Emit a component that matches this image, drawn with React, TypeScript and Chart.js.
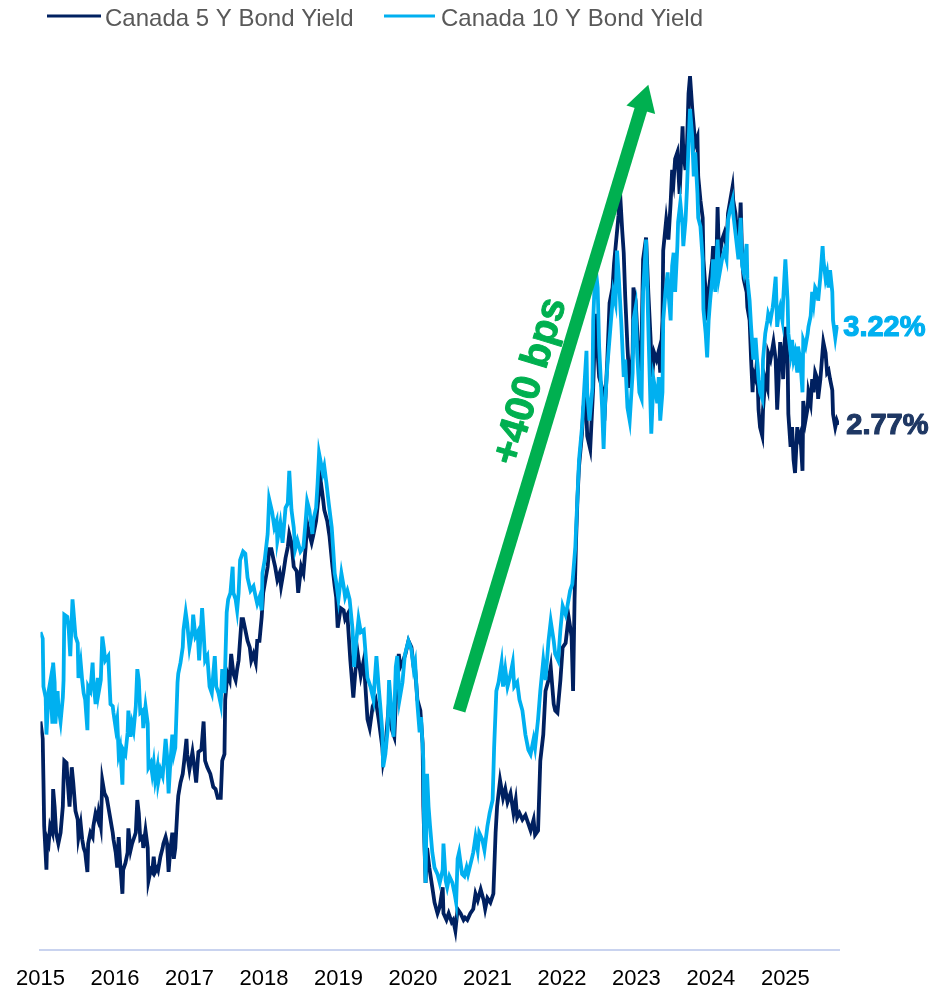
import { useEffect, useRef } from "react";
import { Chart, registerables } from "chart.js";

Chart.register(...registerables);

// ---------- data (decimal years, yields in %) ----------
const xTickYears = [2015, 2016, 2017, 2018, 2019, 2020, 2021, 2022, 2023, 2024, 2025];
const seriesNames = ["Canada 5 Y Bond Yield", "Canada 10 Y Bond Yield"];

const dates5Y = [
  2015.00, 2015.03, 2015.04, 2015.05, 2015.08, 2015.09, 2015.11, 2015.13, 2015.16, 2015.17, 2015.19, 2015.21, 2015.24, 2015.27, 2015.30, 2015.31, 2015.32, 2015.35, 2015.36, 2015.39, 2015.42, 2015.44, 2015.47, 2015.50, 2015.51, 2015.54, 2015.56, 2015.58, 2015.60, 2015.63, 2015.64, 2015.67, 2015.70, 2015.71, 2015.74, 2015.77, 2015.78, 2015.81, 2015.83, 2015.86, 2015.89, 2015.91, 2015.94, 2015.97, 2015.98,
  2016.01, 2016.03, 2016.05, 2016.07, 2016.10, 2016.11, 2016.14, 2016.17, 2016.18, 2016.21, 2016.23, 2016.25, 2016.28, 2016.30, 2016.32, 2016.34, 2016.37, 2016.38, 2016.41, 2016.44, 2016.45, 2016.48, 2016.50, 2016.52, 2016.54, 2016.57, 2016.58, 2016.61, 2016.64, 2016.65, 2016.68, 2016.70, 2016.72, 2016.74, 2016.77, 2016.79, 2016.81, 2016.84, 2016.85, 2016.88, 2016.91, 2016.93, 2016.96, 2016.97,
  2017.00, 2017.04, 2017.07, 2017.09, 2017.12, 2017.16, 2017.19, 2017.21, 2017.24, 2017.28, 2017.32, 2017.35, 2017.38, 2017.42, 2017.44, 2017.47, 2017.48, 2017.51, 2017.54, 2017.56, 2017.59, 2017.62, 2017.64, 2017.66, 2017.70, 2017.72, 2017.75, 2017.78, 2017.81, 2017.83, 2017.86, 2017.89, 2017.91, 2017.94, 2017.97, 2017.99,
  2018.02, 2018.05, 2018.07, 2018.10, 2018.13, 2018.15, 2018.18, 2018.21, 2018.23, 2018.26, 2018.29, 2018.32, 2018.34, 2018.37, 2018.40, 2018.44, 2018.46, 2018.50, 2018.53, 2018.56, 2018.58, 2018.61, 2018.64, 2018.66, 2018.70, 2018.73, 2018.76, 2018.79, 2018.81, 2018.85, 2018.88, 2018.92, 2018.95, 2018.97, 2018.99,
  2019.03, 2019.07, 2019.09, 2019.12, 2019.16, 2019.20, 2019.23, 2019.26, 2019.30, 2019.34, 2019.39, 2019.42, 2019.46, 2019.50, 2019.54, 2019.59, 2019.60, 2019.63, 2019.67, 2019.72, 2019.75, 2019.78, 2019.81, 2019.83, 2019.87, 2019.90, 2019.94, 2019.98,
  2020.01, 2020.03, 2020.06, 2020.10, 2020.13, 2020.14, 2020.17, 2020.19, 2020.22, 2020.26, 2020.29, 2020.33, 2020.36, 2020.40, 2020.41, 2020.45, 2020.48, 2020.52, 2020.54, 2020.57, 2020.60, 2020.64, 2020.68, 2020.70, 2020.73, 2020.77, 2020.81, 2020.84, 2020.87, 2020.91, 2020.95, 2020.97,
  2021.00, 2021.04, 2021.08, 2021.11, 2021.13, 2021.17, 2021.21, 2021.24, 2021.27, 2021.31, 2021.35, 2021.38, 2021.40, 2021.43, 2021.47, 2021.51, 2021.55, 2021.58, 2021.62, 2021.64, 2021.68, 2021.71, 2021.75, 2021.78, 2021.82, 2021.85, 2021.89, 2021.91, 2021.94, 2021.98,
  2022.01, 2022.05, 2022.09, 2022.13, 2022.15, 2022.17, 2022.19, 2022.21, 2022.23, 2022.27, 2022.29, 2022.32, 2022.34, 2022.38, 2022.42, 2022.45, 2022.48, 2022.50, 2022.54, 2022.57, 2022.61, 2022.64, 2022.68, 2022.70, 2022.73, 2022.76, 2022.78, 2022.81, 2022.83, 2022.85, 2022.88, 2022.91, 2022.95, 2022.96, 2022.99,
  2023.01, 2023.04, 2023.07, 2023.09, 2023.13, 2023.16, 2023.19, 2023.21, 2023.24, 2023.27, 2023.30, 2023.32, 2023.35, 2023.36, 2023.40, 2023.43, 2023.46, 2023.48, 2023.50, 2023.52, 2023.55, 2023.58, 2023.62, 2023.63, 2023.66, 2023.68, 2023.70, 2023.72, 2023.75, 2023.77, 2023.79, 2023.82, 2023.83, 2023.86, 2023.89, 2023.90, 2023.93, 2023.95, 2023.97, 2023.99,
  2024.02, 2024.03, 2024.07, 2024.09, 2024.11, 2024.15, 2024.18, 2024.21, 2024.23, 2024.26, 2024.29, 2024.30, 2024.33, 2024.36, 2024.37, 2024.40, 2024.42, 2024.44, 2024.48, 2024.49, 2024.52, 2024.54, 2024.56, 2024.57, 2024.60, 2024.62, 2024.64, 2024.66, 2024.69, 2024.70, 2024.73, 2024.76, 2024.77, 2024.80, 2024.83, 2024.84, 2024.87, 2024.89, 2024.91, 2024.93, 2024.96, 2024.97,
  2025.00, 2025.03, 2025.04, 2025.07, 2025.09, 2025.11, 2025.13, 2025.16, 2025.17, 2025.20, 2025.23, 2025.24, 2025.27, 2025.30, 2025.31, 2025.34, 2025.36, 2025.38, 2025.40, 2025.43, 2025.44, 2025.47, 2025.50, 2025.51, 2025.54, 2025.56, 2025.58, 2025.60, 2025.63, 2025.64, 2025.67, 2025.69, 2025.71,
];

const yield5Y = [
  1.41, 1.33, 1.14, 0.93, 0.73, 0.87, 0.85, 0.93, 0.90, 1.10, 1.02, 0.90, 0.85, 0.90, 1.02, 1.14, 1.23, 1.22, 1.16, 1.02, 1.20, 1.13, 1.00, 0.96, 0.88, 0.94, 0.87, 0.83, 0.81, 0.72, 0.85, 0.90, 0.88, 0.93, 0.99, 0.96, 0.99, 0.93, 1.14, 1.08, 1.06, 1.02, 0.96, 0.90, 0.87,
  0.81, 0.74, 0.88, 0.76, 0.62, 0.73, 0.76, 0.81, 0.92, 0.82, 0.85, 0.87, 0.90, 1.05, 0.99, 0.87, 0.88, 0.83, 0.91, 0.83, 0.68, 0.73, 0.72, 0.79, 0.72, 0.74, 0.73, 0.79, 0.83, 0.85, 0.88, 0.85, 0.72, 0.81, 0.90, 0.78, 0.83, 1.02, 1.07, 1.13, 1.17, 1.23, 1.33, 1.26,
  1.19, 1.27, 1.19, 1.13, 1.27, 1.28, 1.41, 1.23, 1.20, 1.17, 1.11, 1.10, 1.06, 1.06, 1.23, 1.26, 1.51, 1.63, 1.60, 1.72, 1.63, 1.60, 1.65, 1.69, 1.88, 1.88, 1.83, 1.78, 1.75, 1.69, 1.72, 1.68, 1.78, 1.78, 1.89, 2.00,
  2.06, 2.12, 2.20, 2.20, 2.15, 2.12, 2.06, 2.09, 2.03, 2.09, 2.16, 2.21, 2.27, 2.23, 2.12, 2.10, 2.00, 2.12, 2.09, 2.21, 2.32, 2.27, 2.23, 2.26, 2.33, 2.43, 2.52, 2.44, 2.38, 2.33, 2.26, 2.12, 2.03, 1.98, 1.84,
  1.93, 1.92, 1.88, 1.90, 1.69, 1.52, 1.65, 1.72, 1.62, 1.69, 1.42, 1.38, 1.48, 1.51, 1.42, 1.29, 1.23, 1.29, 1.46, 1.37, 1.34, 1.57, 1.72, 1.66, 1.69, 1.72, 1.78, 1.75,
  1.66, 1.65, 1.51, 1.46, 1.31, 1.02, 0.67, 0.83, 0.74, 0.65, 0.58, 0.53, 0.56, 0.65, 0.53, 0.50, 0.53, 0.49, 0.50, 0.45, 0.55, 0.53, 0.50, 0.51, 0.50, 0.53, 0.55, 0.62, 0.59, 0.64, 0.59, 0.55,
  0.60, 0.58, 0.62, 0.90, 1.02, 1.14, 1.06, 1.10, 1.04, 1.08, 0.99, 1.05, 0.97, 0.99, 0.96, 0.98, 0.94, 0.91, 0.96, 0.89, 0.91, 1.23, 1.35, 1.55, 1.60, 1.66, 1.49, 1.46, 1.45, 1.60,
  1.75, 1.77, 1.89, 1.80, 1.55, 1.97, 2.24, 2.44, 2.58, 2.73, 2.85, 2.92, 2.72, 2.66, 2.94, 3.28, 3.10, 2.99, 2.94, 2.79, 3.07, 3.33, 3.40, 3.51, 3.62, 3.73, 3.84, 3.66, 3.56, 3.36, 3.13, 2.94, 3.10, 3.40, 3.34,
  3.21, 2.99, 3.16, 3.53, 3.63, 3.38, 3.17, 2.99, 3.10, 3.07, 3.11, 3.01, 3.25, 3.57, 3.71, 3.62, 3.79, 3.94, 3.89, 3.99, 4.02, 3.83, 4.14, 4.02, 3.94, 4.06, 4.29, 4.37, 4.22, 4.14, 4.06, 4.09, 3.91, 3.80, 3.72, 3.53, 3.38, 3.25, 3.38, 3.44,
  3.53, 3.59, 3.45, 3.77, 3.53, 3.62, 3.65, 3.59, 3.74, 3.80, 3.86, 3.80, 3.74, 3.62, 3.56, 3.79, 3.53, 3.44, 3.38, 3.31, 3.25, 3.07, 2.92, 3.01, 2.98, 3.07, 2.84, 2.76, 2.72, 2.84, 2.98, 2.94, 3.10, 3.07, 3.13, 3.15, 3.07, 2.84, 2.98, 3.15, 3.07, 2.98,
  3.22, 3.07, 2.82, 2.67, 2.76, 2.61, 2.55, 2.76, 2.70, 2.73, 2.56, 2.88, 2.79, 2.85, 2.92, 2.87, 2.98, 2.92, 3.01, 2.98, 2.89, 2.98, 3.11, 3.15, 3.10, 3.01, 3.02, 2.98, 2.93, 2.82, 2.76, 2.79, 2.77,
];

const dates10Y = [
  2015.00, 2015.03, 2015.04, 2015.07, 2015.08, 2015.11, 2015.13, 2015.16, 2015.17, 2015.19, 2015.20, 2015.23, 2015.24, 2015.27, 2015.30, 2015.31, 2015.32, 2015.36, 2015.38, 2015.40, 2015.43, 2015.44, 2015.47, 2015.50, 2015.51, 2015.54, 2015.56, 2015.58, 2015.60, 2015.63, 2015.64, 2015.67, 2015.70, 2015.71, 2015.74, 2015.77, 2015.78, 2015.81, 2015.83, 2015.85, 2015.87, 2015.91, 2015.94, 2015.97, 2015.98,
  2016.01, 2016.03, 2016.05, 2016.07, 2016.10, 2016.11, 2016.14, 2016.17, 2016.18, 2016.21, 2016.23, 2016.25, 2016.28, 2016.30, 2016.32, 2016.34, 2016.37, 2016.38, 2016.41, 2016.44, 2016.45, 2016.48, 2016.50, 2016.52, 2016.54, 2016.57, 2016.58, 2016.61, 2016.64, 2016.65, 2016.68, 2016.70, 2016.72, 2016.74, 2016.77, 2016.79, 2016.81, 2016.84, 2016.85, 2016.88, 2016.91, 2016.92, 2016.95, 2016.97,
  2017.00, 2017.04, 2017.05, 2017.08, 2017.11, 2017.13, 2017.17, 2017.19, 2017.21, 2017.24, 2017.27, 2017.30, 2017.32, 2017.34, 2017.36, 2017.39, 2017.42, 2017.44, 2017.47, 2017.50, 2017.52, 2017.55, 2017.58, 2017.59, 2017.62, 2017.64, 2017.66, 2017.68, 2017.72, 2017.75, 2017.78, 2017.82, 2017.86, 2017.89, 2017.91, 2017.94, 2017.97, 2017.98,
  2018.01, 2018.05, 2018.07, 2018.11, 2018.14, 2018.17, 2018.18, 2018.22, 2018.25, 2018.29, 2018.32, 2018.34, 2018.37, 2018.40, 2018.42, 2018.45, 2018.49, 2018.53, 2018.56, 2018.58, 2018.61, 2018.65, 2018.66, 2018.70, 2018.72, 2018.74, 2018.79, 2018.81, 2018.84, 2018.87, 2018.91, 2018.93, 2018.95, 2018.97,
  2019.00, 2019.04, 2019.07, 2019.09, 2019.12, 2019.15, 2019.19, 2019.21, 2019.24, 2019.27, 2019.30, 2019.34, 2019.39, 2019.43, 2019.47, 2019.51, 2019.54, 2019.56, 2019.59, 2019.60, 2019.63, 2019.66, 2019.68, 2019.72, 2019.74, 2019.77, 2019.79, 2019.82, 2019.86, 2019.89, 2019.91, 2019.94, 2019.98,
  2020.01, 2020.03, 2020.06, 2020.09, 2020.11, 2020.14, 2020.15, 2020.17, 2020.19, 2020.21, 2020.23, 2020.26, 2020.29, 2020.33, 2020.36, 2020.40, 2020.41, 2020.44, 2020.46, 2020.49, 2020.53, 2020.56, 2020.58, 2020.60, 2020.62, 2020.66, 2020.69, 2020.72, 2020.74, 2020.79, 2020.81, 2020.84, 2020.87, 2020.89, 2020.93, 2020.96,
  2021.00, 2021.03, 2021.07, 2021.09, 2021.12, 2021.15, 2021.19, 2021.21, 2021.24, 2021.27, 2021.30, 2021.34, 2021.36, 2021.40, 2021.43, 2021.47, 2021.51, 2021.55, 2021.58, 2021.62, 2021.64, 2021.68, 2021.71, 2021.75, 2021.78, 2021.82, 2021.85, 2021.89, 2021.91, 2021.95, 2021.98,
  2022.01, 2022.05, 2022.07, 2022.11, 2022.14, 2022.18, 2022.21, 2022.23, 2022.27, 2022.30, 2022.33, 2022.34, 2022.37, 2022.41, 2022.42, 2022.45, 2022.48, 2022.50, 2022.54, 2022.56, 2022.58, 2022.61, 2022.65, 2022.69, 2022.72, 2022.74, 2022.76, 2022.80, 2022.83, 2022.85, 2022.88, 2022.91, 2022.95, 2022.96, 2022.99,
  2023.01, 2023.04, 2023.07, 2023.09, 2023.13, 2023.16, 2023.20, 2023.23, 2023.26, 2023.28, 2023.30, 2023.32, 2023.35, 2023.36, 2023.39, 2023.42, 2023.43, 2023.46, 2023.48, 2023.50, 2023.52, 2023.55, 2023.56, 2023.59, 2023.62, 2023.63, 2023.66, 2023.68, 2023.70, 2023.72, 2023.75, 2023.77, 2023.79, 2023.82, 2023.83, 2023.86, 2023.89, 2023.90, 2023.93, 2023.95, 2023.97, 2023.99,
  2024.02, 2024.03, 2024.06, 2024.09, 2024.11, 2024.15, 2024.18, 2024.21, 2024.23, 2024.26, 2024.29, 2024.30, 2024.33, 2024.36, 2024.37, 2024.40, 2024.42, 2024.44, 2024.48, 2024.49, 2024.52, 2024.54, 2024.57, 2024.60, 2024.62, 2024.64, 2024.66, 2024.69, 2024.70, 2024.73, 2024.76, 2024.77, 2024.80, 2024.83, 2024.84, 2024.87, 2024.89, 2024.91, 2024.93, 2024.96, 2024.97,
  2025.00, 2025.03, 2025.04, 2025.07, 2025.09, 2025.11, 2025.13, 2025.16, 2025.17, 2025.20, 2025.23, 2025.24, 2025.27, 2025.30, 2025.31, 2025.34, 2025.36, 2025.38, 2025.40, 2025.43, 2025.44, 2025.47, 2025.50, 2025.51, 2025.54, 2025.56, 2025.58, 2025.60, 2025.63, 2025.64, 2025.67, 2025.69, 2025.71,
];

const yield10Y = [
  1.82, 1.79, 1.57, 1.52, 1.35, 1.55, 1.59, 1.40, 1.68, 1.59, 1.40, 1.55, 1.48, 1.41, 1.52, 1.60, 1.90, 1.89, 1.83, 1.71, 1.97, 1.93, 1.80, 1.77, 1.61, 1.68, 1.60, 1.54, 1.51, 1.37, 1.57, 1.55, 1.68, 1.60, 1.49, 1.61, 1.54, 1.60, 1.80, 1.75, 1.69, 1.71, 1.49, 1.48, 1.45,
  1.38, 1.42, 1.26, 1.29, 1.12, 1.28, 1.26, 1.36, 1.46, 1.34, 1.40, 1.37, 1.48, 1.65, 1.60, 1.45, 1.46, 1.38, 1.48, 1.40, 1.20, 1.22, 1.17, 1.22, 1.14, 1.20, 1.13, 1.19, 1.16, 1.20, 1.33, 1.25, 1.08, 1.20, 1.35, 1.26, 1.29, 1.59, 1.63, 1.68, 1.75, 1.83, 1.91, 1.86,
  1.75, 1.83, 1.90, 1.80, 1.82, 1.69, 1.93, 1.82, 1.69, 1.71, 1.57, 1.54, 1.63, 1.71, 1.57, 1.54, 1.49, 1.65, 1.54, 1.91, 1.97, 2.00, 2.12, 2.00, 1.97, 1.92, 2.00, 2.15, 2.19, 2.18, 2.07, 2.01, 2.03, 1.98, 1.95, 1.98, 1.92, 2.09,
  2.15, 2.27, 2.43, 2.37, 2.30, 2.33, 2.24, 2.32, 2.23, 2.39, 2.41, 2.56, 2.38, 2.30, 2.20, 2.24, 2.19, 2.21, 2.33, 2.42, 2.38, 2.27, 2.33, 2.39, 2.50, 2.64, 2.55, 2.58, 2.50, 2.41, 2.30, 2.20, 2.09, 2.05,
  1.97, 2.09, 2.03, 1.98, 2.01, 1.97, 1.83, 1.66, 1.78, 1.88, 1.82, 1.83, 1.61, 1.57, 1.51, 1.71, 1.57, 1.49, 1.36, 1.20, 1.26, 1.37, 1.60, 1.42, 1.34, 1.66, 1.71, 1.51, 1.59, 1.71, 1.74, 1.78, 1.74,
  1.65, 1.68, 1.49, 1.36, 1.43, 1.23, 0.93, 0.67, 1.17, 1.02, 0.93, 0.81, 0.74, 0.71, 0.67, 0.73, 0.85, 0.68, 0.65, 0.70, 0.67, 0.62, 0.58, 0.78, 0.81, 0.71, 0.70, 0.74, 0.71, 0.78, 0.81, 0.88, 0.82, 0.90, 0.87, 0.82,
  0.93, 0.99, 1.05, 1.29, 1.55, 1.59, 1.68, 1.57, 1.65, 1.57, 1.61, 1.68, 1.57, 1.59, 1.51, 1.46, 1.35, 1.28, 1.26, 1.33, 1.29, 1.42, 1.55, 1.69, 1.60, 1.78, 1.87, 1.78, 1.72, 1.69, 1.83,
  1.94, 1.90, 1.93, 2.01, 2.04, 2.21, 2.45, 2.61, 2.76, 2.94, 3.11, 2.92, 2.79, 2.94, 3.25, 3.50, 3.40, 3.13, 2.85, 2.66, 2.87, 3.04, 3.21, 3.38, 3.33, 3.57, 3.47, 3.22, 2.99, 3.07, 2.85, 2.79, 3.01, 3.25, 3.31,
  3.10, 2.92, 2.89, 3.38, 3.62, 3.22, 2.73, 2.98, 2.92, 2.87, 2.99, 2.79, 2.92, 3.25, 3.38, 3.47, 3.38, 3.25, 3.50, 3.56, 3.38, 3.59, 3.70, 3.79, 3.68, 3.59, 3.71, 3.86, 4.06, 4.22, 4.09, 3.91, 4.02, 3.83, 3.72, 3.68, 3.53, 3.30, 3.19, 3.08, 3.25, 3.34,
  3.45, 3.53, 3.38, 3.62, 3.45, 3.53, 3.57, 3.53, 3.71, 3.76, 3.80, 3.74, 3.65, 3.56, 3.53, 3.72, 3.50, 3.47, 3.60, 3.44, 3.34, 3.22, 3.07, 3.17, 3.07, 2.98, 2.92, 2.89, 3.07, 3.19, 3.25, 3.28, 3.25, 3.31, 3.34, 3.45, 3.22, 3.28, 3.31, 3.25, 3.34,
  3.53, 3.34, 3.19, 3.10, 3.16, 3.07, 3.10, 3.01, 3.13, 3.07, 2.92, 3.16, 3.13, 3.19, 3.22, 3.27, 3.38, 3.33, 3.40, 3.38, 3.34, 3.45, 3.59, 3.53, 3.44, 3.47, 3.40, 3.48, 3.38, 3.25, 3.17, 3.22, 3.22,
];

// annotation (in data units)
const arrowLabel = "+400 bps";
const arrowFrom = [2020.62, 1.46];
const arrowTo = [2023.16, 4.33];
const arrowTextAt = [2021.58, 2.97];

// ---------- styles ----------
const FONT = '"Liberation Sans", Arial, Helvetica, sans-serif';
const NAVY = "#002060";
const SKY = "#00B0F0";
const NAVY_LABEL = "#1F3864";
const GREEN = "#00B050";

function toPoints(xs: number[], ys: number[]) {
  const n = Math.min(xs.length, ys.length);
  const out: { x: number; y: number }[] = [];
  for (let i = 0; i < n; i++) out.push({ x: xs[i], y: ys[i] });
  return out;
}

const overlayPlugin = {
  id: "overlay",
  afterDatasetsDraw(chart: any) {
    const { ctx } = chart;
    const xs = chart.scales.x;
    const ys = chart.scales.y;
    ctx.save();
    // green arrow
    const x0 = xs.getPixelForValue(arrowFrom[0]);
    const y0 = ys.getPixelForValue(arrowFrom[1]);
    const x1 = xs.getPixelForValue(arrowTo[0]);
    const y1 = ys.getPixelForValue(arrowTo[1]);
    const dx = x1 - x0;
    const dy = y1 - y0;
    const len = Math.hypot(dx, dy);
    const ux = dx / len;
    const uy = dy / len;
    const nx = -uy;
    const ny = ux;
    const headLen = 26;
    const headHalf = 15;
    const bx = x1 - ux * headLen;
    const by = y1 - uy * headLen;
    ctx.strokeStyle = GREEN;
    ctx.fillStyle = GREEN;
    ctx.lineWidth = 13;
    ctx.lineCap = "butt";
    ctx.beginPath();
    ctx.moveTo(x0, y0);
    ctx.lineTo(bx + ux * 2, by + uy * 2);
    ctx.stroke();
    ctx.beginPath();
    ctx.moveTo(x1, y1);
    ctx.lineTo(bx + nx * headHalf, by + ny * headHalf);
    ctx.lineTo(bx - nx * headHalf, by - ny * headHalf);
    ctx.closePath();
    ctx.fill();
    // rotated label
    const tx = xs.getPixelForValue(arrowTextAt[0]);
    const ty = ys.getPixelForValue(arrowTextAt[1]);
    ctx.translate(tx, ty);
    ctx.rotate(Math.atan2(dy, dx));
    ctx.font = `bold 40px ${FONT}`;
    ctx.textAlign = "center";
    ctx.textBaseline = "middle";
    ctx.lineWidth = 1;
    ctx.lineJoin = "round";
    ctx.fillText(arrowLabel, 0, 0);
    ctx.strokeText(arrowLabel, 0, 0);
    ctx.restore();
  },
  afterDraw(chart: any) {
    const { ctx } = chart;
    const xs = chart.scales.x;
    const ys = chart.scales.y;
    ctx.save();
    // legend
    const legendItems = [
      { color: NAVY, x1: 47, x2: 101, tx: 105 },
      { color: SKY, x1: 384, x2: 435, tx: 441 },
    ];
    legendItems.forEach((it, i) => {
      ctx.strokeStyle = it.color;
      ctx.lineWidth = 3;
      ctx.beginPath();
      ctx.moveTo(it.x1, 16);
      ctx.lineTo(it.x2, 16);
      ctx.stroke();
      ctx.fillStyle = "#595959";
      ctx.font = `24px ${FONT}`;
      ctx.textAlign = "left";
      ctx.textBaseline = "alphabetic";
      ctx.fillText(seriesNames[i], it.tx, 26);
    });
    // end labels
    const ends = [
      { xs: dates5Y, ys: yield5Y, color: NAVY_LABEL, dx: 8 },
      { xs: dates10Y, ys: yield10Y, color: SKY, dx: 5 },
    ];
    ctx.font = `bold 29px ${FONT}`;
    ctx.textAlign = "left";
    ctx.textBaseline = "middle";
    ctx.lineWidth = 1.2;
    ctx.lineJoin = "round";
    ends.forEach((e) => {
      const n = Math.min(e.xs.length, e.ys.length) - 1;
      const px = xs.getPixelForValue(e.xs[n]) + e.dx;
      const py = ys.getPixelForValue(e.ys[n]);
      const txt = `${e.ys[n].toFixed(2)}%`;
      ctx.fillStyle = e.color;
      ctx.strokeStyle = e.color;
      ctx.fillText(txt, px, py + 1);
      ctx.strokeText(txt, px, py + 1);
    });
    ctx.restore();
  },
};

export default function App() {
  const ref = useRef<HTMLCanvasElement | null>(null);
  useEffect(() => {
    if (!ref.current) return;
    const chart = new Chart(ref.current, {
      type: "line",
      data: {
        datasets: [
          {
            label: seriesNames[0],
            data: toPoints(dates5Y, yield5Y),
            borderColor: NAVY,
            backgroundColor: NAVY,
            borderWidth: 3.8,
            pointRadius: 0,
            tension: 0,
            order: 1,
          },
          {
            label: seriesNames[1],
            data: toPoints(dates10Y, yield10Y),
            borderColor: SKY,
            backgroundColor: SKY,
            borderWidth: 3.8,
            pointRadius: 0,
            tension: 0,
            order: 0,
          },
        ],
      },
      options: {
        responsive: false,
        animation: false,
        devicePixelRatio: 1,
        layout: { padding: { left: 40, right: 92, top: 60, bottom: 0 } },
        plugins: {
          legend: { display: false },
          tooltip: { enabled: false },
        },
        scales: {
          x: {
            type: "linear",
            min: 2015,
            max: 2025.72,
            grid: { display: false, drawTicks: false },
            border: { display: true, color: "#C9D3EF", width: 2 },
            ticks: {
              color: "#000000",
              font: { family: FONT, size: 22 },
              padding: 16,
              maxRotation: 0,
              autoSkip: false,
              callback: (v: any) => String(v),
            },
            afterBuildTicks: (axis: any) => {
              axis.ticks = xTickYears.map((v) => ({ value: v }));
            },
            afterFit: (axis: any) => {
              axis.height = 43;
            },
          },
          y: {
            type: "linear",
            display: false,
            min: 0.362,
            max: 4.444,
          },
        },
      },
      plugins: [overlayPlugin],
    } as any);
    return () => chart.destroy();
  }, []);
  return (
    <canvas
      ref={ref}
      width={931}
      height={993}
      style={{ position: "absolute", left: 0, top: 0, width: 931, height: 993 }}
    />
  );
}
